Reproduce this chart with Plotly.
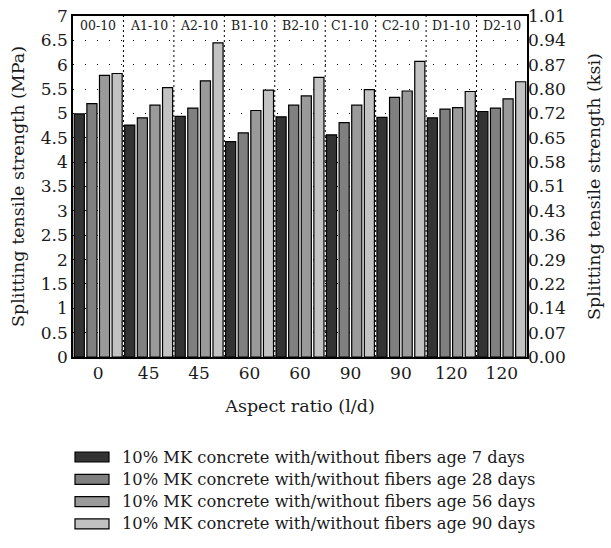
import plotly.graph_objects as go

aspect_labels = ["0", "45", "45", "60", "60", "90", "90", "120", "120"]
mix_labels = ["00-10", "A1-10", "A2-10", "B1-10", "B2-10", "C1-10", "C2-10", "D1-10", "D2-10"]
series_names = [
    "10% MK concrete with/without fibers age 7 days",
    "10% MK concrete with/without fibers age 28 days",
    "10% MK concrete with/without fibers age 56 days",
    "10% MK concrete with/without fibers age 90 days",
]
age7 = [4.99, 4.76, 4.94, 4.42, 4.93, 4.56, 4.92, 4.91, 5.04]
age28 = [5.20, 4.91, 5.11, 4.60, 5.17, 4.81, 5.33, 5.09, 5.11]
age56 = [5.78, 5.17, 5.67, 5.06, 5.36, 5.17, 5.46, 5.12, 5.30]
age90 = [5.82, 5.53, 6.45, 5.48, 5.74, 5.49, 6.07, 5.45, 5.65]
mpa_ticks = [0, 0.5, 1, 1.5, 2, 2.5, 3, 3.5, 4, 4.5, 5, 5.5, 6, 6.5, 7]
ksi_ticks = ["0.00", "0.07", "0.14", "0.22", "0.29", "0.36", "0.43", "0.51",
             "0.58", "0.65", "0.72", "0.80", "0.87", "0.94", "1.01"]
colors = ["#333333", "#808080", "#9a9a9a", "#c2c2c2"]

FONT = "DejaVu Serif, Liberation Serif, serif"
TXT = "#1a1a1a"
x = list(range(len(aspect_labels)))
fig = go.Figure()
for name, vals, c in zip(series_names, [age7, age28, age56, age90], colors):
    fig.add_trace(go.Bar(x=x, y=vals, name=name, marker=dict(color=c, line=dict(color="black", width=1.2)),
                         showlegend=False))

# invisible trace to activate secondary axis
fig.add_trace(go.Scatter(x=[0], y=[0], yaxis="y2", mode="markers", marker=dict(opacity=0),
                         showlegend=False, hoverinfo="skip"))

for i, lab in enumerate(mix_labels):
    fig.add_annotation(x=i, y=7, yref="y", xref="x", text=lab, showarrow=False, yanchor="top", yshift=0,
                       font=dict(family=FONT, size=12.5, color=TXT))

# manual legend
for k, (name, c) in enumerate(zip(series_names, colors)):
    y0 = 457 + 22.3 * k
    fig.add_shape(type="rect", xref="paper", yref="paper",
                  x0=(75 - 73) / 454, x1=(109 - 73) / 454,
                  y0=1 - (y0 + 5 - 16) / 341, y1=1 - (y0 - 5 - 16) / 341,
                  fillcolor=c, line=dict(color="black", width=1.2))
    fig.add_annotation(xref="paper", yref="paper", x=(120 - 73) / 454, y=1 - (y0 - 16) / 341,
                       text=name, showarrow=False, xanchor="left", yanchor="middle",
                       font=dict(family=FONT, size=16.3, color=TXT))

fig.update_layout(
    width=611, height=548,
    margin=dict(l=73, r=84, t=16, b=191, autoexpand=False),
    paper_bgcolor="white", plot_bgcolor="white",
    barmode="group", bargap=0.0, bargroupgap=0.2,
    font=dict(family=FONT, size=15, color=TXT),
    xaxis=dict(range=[-0.5, 8.5], tickvals=x, ticktext=aspect_labels,
               showline=True, linecolor="black", linewidth=1.5, mirror=True,
               ticks="", showgrid=False,
               title=dict(text="Aspect ratio (l/d)", font=dict(family=FONT, size=17.5), standoff=18),
               tickfont=dict(family=FONT, size=17)),
    yaxis=dict(range=[0, 7], tickvals=mpa_ticks, ticktext=[("%g" % v) for v in mpa_ticks],
               showline=True, linecolor="black", linewidth=1.5, mirror=True,
               showgrid=True, gridcolor="black", gridwidth=1, griddash="1px,11px",
               zeroline=False, ticks="",
               title=dict(text="Splitting tensile strength (MPa)", font=dict(family=FONT, size=17.5), standoff=12),
               tickfont=dict(family=FONT, size=17)),
    yaxis2=dict(range=[0, 7], overlaying="y", side="right", tickvals=mpa_ticks, ticktext=ksi_ticks,
                showgrid=False, zeroline=False, ticks="", showline=False,
                title=dict(text="Splitting tensile strength (ksi)", font=dict(family=FONT, size=17.5), standoff=22),
                tickfont=dict(family=FONT, size=17)),
)

# dotted vertical separators between groups
for i in range(1, 9):
    fig.add_vline(x=i - 0.5, line=dict(color="black", width=1, dash="2px,3px"), layer="below")

fig.write_html("out.html", config={"displayModeBar": False},
               post_script="document.body.style.margin='0';document.body.style.padding='0';")
